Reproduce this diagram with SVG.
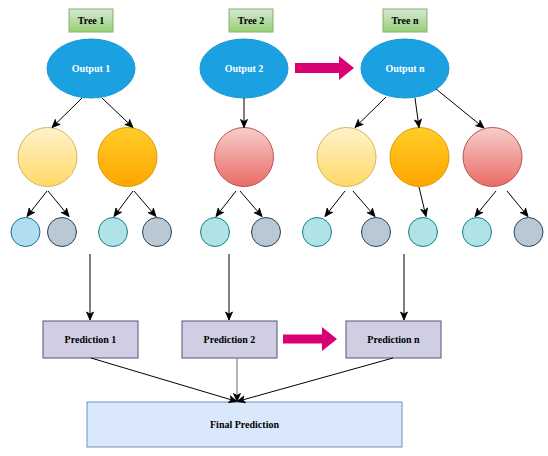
<svg xmlns="http://www.w3.org/2000/svg" width="548" height="456" viewBox="0 0 548 456">
<defs>
<linearGradient id="gGreen" x1="0" y1="0" x2="0" y2="1"><stop offset="0" stop-color="#d5e8d4"/><stop offset="1" stop-color="#97d077"/></linearGradient>
<linearGradient id="gYellow" x1="0" y1="0" x2="0" y2="1"><stop offset="0" stop-color="#fff2cc"/><stop offset="1" stop-color="#ffd966"/></linearGradient>
<linearGradient id="gOrange" x1="0" y1="0" x2="0" y2="1"><stop offset="0" stop-color="#ffcd28"/><stop offset="1" stop-color="#ffa500"/></linearGradient>
<linearGradient id="gPink" x1="0" y1="0" x2="0" y2="1"><stop offset="0" stop-color="#f8cecc"/><stop offset="1" stop-color="#ea6b66"/></linearGradient>
<marker id="arr" markerUnits="userSpaceOnUse" markerWidth="10" markerHeight="10" viewBox="0 0 10 10" refX="9" refY="5" orient="auto">
<path d="M1,1.5 L9,5 L1,8.5 L3,5 Z" fill="#000" stroke="#000" stroke-width="0.8"/>
</marker>
<style>
text{font-family:"Liberation Serif","Times New Roman",serif;font-weight:bold;font-size:10px;text-anchor:middle;dominant-baseline:central}
.tree{fill:url(#gGreen);stroke:#82b366;stroke-width:1}
.out{fill:#1ba1e2;stroke:#1a97d6;stroke-width:1}
.out+text,.wt{fill:#fff}
.yel{fill:url(#gYellow);stroke:#d6b656}
.org{fill:url(#gOrange);stroke:#d79b00}
.pnk{fill:url(#gPink);stroke:#b85450}
.lb{fill:#b1ddf0;stroke:#10739e}
.gr{fill:#bac8d3;stroke:#23445d}
.tl{fill:#b0e3e6;stroke:#0e8088}
.pred{fill:#d0cee2;stroke:#56517e;stroke-width:1}
.fin{fill:#dae8fc;stroke:#6c8ebf;stroke-width:1}
.c{fill:none;stroke:#000;stroke-width:1;marker-end:url(#arr)}
.big{fill:#d80073;stroke:none}
</style>
</defs>

<g id="tree1"><rect class="tree" x="69" y="9" width="44" height="23"/><text x="91" y="20.5">Tree 1</text></g>
<g id="tree2"><rect class="tree" x="229" y="9" width="44" height="23"/><text x="251" y="20.5">Tree 2</text></g>
<g id="treen"><rect class="tree" x="383" y="9" width="44" height="23"/><text x="405" y="20.5">Tree n</text></g>

<g id="output1"><ellipse class="out" cx="91" cy="68.5" rx="44" ry="29.5"/><text class="wt" x="91" y="68.5">Output 1</text></g>
<g id="output2"><ellipse class="out" cx="244" cy="68.5" rx="44" ry="29.5"/><text class="wt" x="244" y="68.5">Output 2</text></g>
<g id="outputn"><ellipse class="out" cx="405" cy="68.5" rx="44" ry="29.5"/><text class="wt" x="405" y="68.5">Output n</text></g>

<g id="n1a"><circle class="yel" cx="47.5" cy="157" r="29.5"/></g>
<g id="n1b"><circle class="org" cx="127.5" cy="157" r="29.5"/></g>
<g id="n2a"><circle class="pnk" cx="244" cy="157" r="29.5"/></g>
<g id="nna"><circle class="yel" cx="346.5" cy="157" r="29.5"/></g>
<g id="nnb"><circle class="org" cx="419.5" cy="157" r="29.5"/></g>
<g id="nnc"><circle class="pnk" cx="492.5" cy="157" r="29.5"/></g>

<g id="l1"><circle class="lb" cx="25.5" cy="232" r="14.5"/></g>
<g id="l2"><circle class="gr" cx="62" cy="232" r="14.5"/></g>
<g id="l3"><circle class="tl" cx="113" cy="232" r="14.5"/></g>
<g id="l4"><circle class="gr" cx="157" cy="232" r="14.5"/></g>
<g id="l5"><circle class="tl" cx="215" cy="232" r="14.5"/></g>
<g id="l6"><circle class="gr" cx="266" cy="232" r="14.5"/></g>
<g id="l7"><circle class="tl" cx="317" cy="232" r="14.5"/></g>
<g id="l8"><circle class="gr" cx="376" cy="232" r="14.5"/></g>
<g id="l9"><circle class="tl" cx="423" cy="232" r="14.5"/></g>
<g id="l10"><circle class="tl" cx="477" cy="232" r="14.5"/></g>
<g id="l11"><circle class="gr" cx="528.5" cy="232" r="14.5"/></g>

<g id="pred1"><rect class="pred" x="43" y="321" width="95" height="37"/><text x="90.5" y="339.5">Prediction 1</text></g>
<g id="pred2"><rect class="pred" x="182" y="321" width="95" height="37"/><text x="229.5" y="339.5">Prediction 2</text></g>
<g id="predn"><rect class="pred" x="346" y="321" width="95" height="37"/><text x="393.5" y="339.5">Prediction n</text></g>

<g id="final"><rect class="fin" x="87" y="402" width="315" height="45"/><text x="244.5" y="424.5">Final Prediction</text></g>

<g id="connectors">
<path class="c" d="M82,98 L52,127.5"/>
<path class="c" d="M102,98 L133,127.5"/>
<path class="c" d="M244,98 L244,127.5"/>
<path class="c" d="M386,97 L355,127.5"/>
<path class="c" d="M415,98 L419,127.5"/>
<path class="c" d="M436,89 L484,128"/>

<path class="c" d="M47,191 L27,216.5"/>
<path class="c" d="M48,191 L69,216.5"/>
<path class="c" d="M133,191 L114,216.5"/>
<path class="c" d="M134,191 L156,216.5"/>
<path class="c" d="M236,191 L216,216.5"/>
<path class="c" d="M240,191 L262,216.5"/>
<path class="c" d="M345,191 L325,216.5"/>
<path class="c" d="M353,191 L375,216.5"/>
<path class="c" d="M419,187 L426,216.5"/>
<path class="c" d="M496,191 L475,216.5"/>
<path class="c" d="M507,191 L528,216.5"/>

<path class="c" d="M90,254 L90,320"/>
<path class="c" d="M229,254 L229,320"/>
<path class="c" d="M404,254 L404,320"/>

<path class="c" d="M91,358 L237,401.5"/>
<path class="c" d="M393,358 L237,401.5"/>
<path d="M237,358 L237,401.5" fill="none" stroke="#999" stroke-width="1.5" marker-end="url(#arr)"/>

<polygon class="big" points="295,63 339,63 339,56 354,68 339,80 339,73 295,73"/>
<polygon class="big" points="283,334.5 322,334.5 322,327 337,339 322,351 322,343.5 283,343.5"/>
</g>
</svg>
